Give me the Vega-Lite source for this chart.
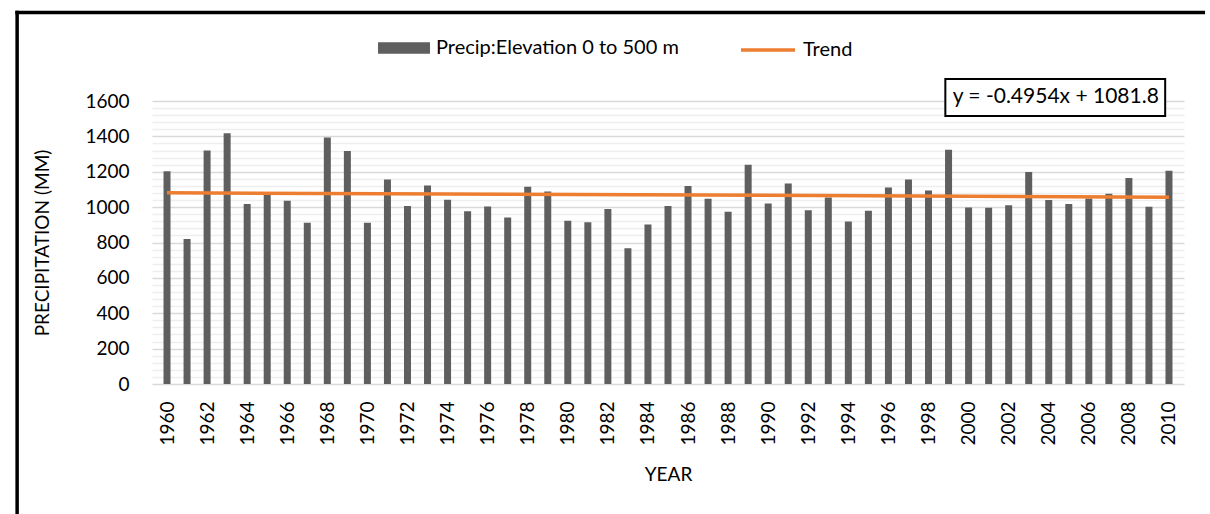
{
  "$schema": "https://vega.github.io/schema/vega-lite/v6.json",
  "autosize": {"type": "none"},
  "width": 1032,
  "height": 283,
  "padding": {"left": 152, "top": 101, "right": 26, "bottom": 130},
  "background": "white",
  "config": {
    "view": {"stroke": null},
    "font": "Lato",
    "axis": {"labelFont": "Lato", "titleFont": "Lato", "labelColor": "#000", "titleColor": "#000", "labelFontSize": 19, "titleFontSize": 19, "titleFontWeight": "normal"},
    "legend": {"labelFont": "Lato", "labelFontSize": 20, "labelColor": "#000", "labelOffset": 6, "padding": 0, "labelLimit": 400}
  },
  "datasets": {
    "precip": [
      {"Year": 1960, "Precip": 1203, "Series": "Precip:Elevation 0 to 500 m"}, {"Year": 1961, "Precip": 820, "Series": "Precip:Elevation 0 to 500 m"}, {"Year": 1962, "Precip": 1320, "Series": "Precip:Elevation 0 to 500 m"},
      {"Year": 1963, "Precip": 1418, "Series": "Precip:Elevation 0 to 500 m"}, {"Year": 1964, "Precip": 1017, "Series": "Precip:Elevation 0 to 500 m"}, {"Year": 1965, "Precip": 1070, "Series": "Precip:Elevation 0 to 500 m"},
      {"Year": 1966, "Precip": 1036, "Series": "Precip:Elevation 0 to 500 m"}, {"Year": 1967, "Precip": 912, "Series": "Precip:Elevation 0 to 500 m"}, {"Year": 1968, "Precip": 1393, "Series": "Precip:Elevation 0 to 500 m"},
      {"Year": 1969, "Precip": 1318, "Series": "Precip:Elevation 0 to 500 m"}, {"Year": 1970, "Precip": 912, "Series": "Precip:Elevation 0 to 500 m"}, {"Year": 1971, "Precip": 1156, "Series": "Precip:Elevation 0 to 500 m"},
      {"Year": 1972, "Precip": 1006, "Series": "Precip:Elevation 0 to 500 m"}, {"Year": 1973, "Precip": 1122, "Series": "Precip:Elevation 0 to 500 m"}, {"Year": 1974, "Precip": 1042, "Series": "Precip:Elevation 0 to 500 m"},
      {"Year": 1975, "Precip": 976, "Series": "Precip:Elevation 0 to 500 m"}, {"Year": 1976, "Precip": 1004, "Series": "Precip:Elevation 0 to 500 m"}, {"Year": 1977, "Precip": 942, "Series": "Precip:Elevation 0 to 500 m"},
      {"Year": 1978, "Precip": 1115, "Series": "Precip:Elevation 0 to 500 m"}, {"Year": 1979, "Precip": 1089, "Series": "Precip:Elevation 0 to 500 m"}, {"Year": 1980, "Precip": 923, "Series": "Precip:Elevation 0 to 500 m"},
      {"Year": 1981, "Precip": 914, "Series": "Precip:Elevation 0 to 500 m"}, {"Year": 1982, "Precip": 989, "Series": "Precip:Elevation 0 to 500 m"}, {"Year": 1983, "Precip": 767, "Series": "Precip:Elevation 0 to 500 m"},
      {"Year": 1984, "Precip": 902, "Series": "Precip:Elevation 0 to 500 m"}, {"Year": 1985, "Precip": 1006, "Series": "Precip:Elevation 0 to 500 m"}, {"Year": 1986, "Precip": 1120, "Series": "Precip:Elevation 0 to 500 m"},
      {"Year": 1987, "Precip": 1047, "Series": "Precip:Elevation 0 to 500 m"}, {"Year": 1988, "Precip": 974, "Series": "Precip:Elevation 0 to 500 m"}, {"Year": 1989, "Precip": 1239, "Series": "Precip:Elevation 0 to 500 m"},
      {"Year": 1990, "Precip": 1021, "Series": "Precip:Elevation 0 to 500 m"}, {"Year": 1991, "Precip": 1134, "Series": "Precip:Elevation 0 to 500 m"}, {"Year": 1992, "Precip": 983, "Series": "Precip:Elevation 0 to 500 m"},
      {"Year": 1993, "Precip": 1055, "Series": "Precip:Elevation 0 to 500 m"}, {"Year": 1994, "Precip": 919, "Series": "Precip:Elevation 0 to 500 m"}, {"Year": 1995, "Precip": 979, "Series": "Precip:Elevation 0 to 500 m"},
      {"Year": 1996, "Precip": 1111, "Series": "Precip:Elevation 0 to 500 m"}, {"Year": 1997, "Precip": 1156, "Series": "Precip:Elevation 0 to 500 m"}, {"Year": 1998, "Precip": 1094, "Series": "Precip:Elevation 0 to 500 m"},
      {"Year": 1999, "Precip": 1324, "Series": "Precip:Elevation 0 to 500 m"}, {"Year": 2000, "Precip": 998, "Series": "Precip:Elevation 0 to 500 m"}, {"Year": 2001, "Precip": 996, "Series": "Precip:Elevation 0 to 500 m"},
      {"Year": 2002, "Precip": 1010, "Series": "Precip:Elevation 0 to 500 m"}, {"Year": 2003, "Precip": 1198, "Series": "Precip:Elevation 0 to 500 m"}, {"Year": 2004, "Precip": 1040, "Series": "Precip:Elevation 0 to 500 m"},
      {"Year": 2005, "Precip": 1017, "Series": "Precip:Elevation 0 to 500 m"}, {"Year": 2006, "Precip": 1049, "Series": "Precip:Elevation 0 to 500 m"}, {"Year": 2007, "Precip": 1075, "Series": "Precip:Elevation 0 to 500 m"},
      {"Year": 2008, "Precip": 1164, "Series": "Precip:Elevation 0 to 500 m"}, {"Year": 2009, "Precip": 1002, "Series": "Precip:Elevation 0 to 500 m"}, {"Year": 2010, "Precip": 1205, "Series": "Precip:Elevation 0 to 500 m"}
    ],
    "trend": [
      {"Year": 1960, "Trend": 1081.3, "Series": "Trend"},
      {"Year": 2010, "Trend": 1056.5, "Series": "Trend"}
    ]
  },
  "resolve": {"axis": {"y": "independent"}},
  "layer": [
    {
      "data": {"name": "precip"},
      "mark": {"type": "bar", "size": 7},
      "encoding": {
        "x": {
          "field": "Year", "type": "quantitative",
          "scale": {"domain": [1959.5, 2010.5], "nice": false, "zero": false},
          "axis": {
            "values": [1960,1962,1964,1966,1968,1970,1972,1974,1976,1978,1980,1982,1984,1986,1988,1990,1992,1994,1996,1998,2000,2002,2004,2006,2008,2010],
            "format": "d", "labelAngle": -90, "labelFlush": false, "labelOverlap": false,
            "grid": false, "domain": false, "ticks": false, "labelPadding": 17,
            "title": "YEAR", "titlePadding": 20
          }
        },
        "y": {
          "field": "Precip", "type": "quantitative",
          "scale": {"domain": [0, 1600], "nice": false},
          "axis": {
            "values": [0,200,400,600,800,1000,1200,1400,1600],
            "format": "d", "grid": true, "gridColor": "#d9d9d9", "gridWidth": 1.5,
            "labelOverlap": false, "labelFlush": false,
            "domain": false, "ticks": false, "labelPadding": 23,
            "title": "PRECIPITATION (MM)", "titlePadding": 32
          }
        },
        "fill": {
          "field": "Series", "type": "nominal",
          "scale": {"domain": ["Precip:Elevation 0 to 500 m"], "range": ["#5f5f5f"]},
          "legend": {
            "orient": "none", "legendX": 226, "legendY": -79, "title": null,
            "symbolSize": 2704, "symbolType": "M-1,-0.225H1V0.225H-1Z", "symbolStrokeWidth": 0
          }
        }
      }
    },
    {
      "data": {"name": "trend"},
      "mark": {"type": "line", "strokeWidth": 3.5},
      "encoding": {
        "x": {"field": "Year", "type": "quantitative"},
        "y": {
          "field": "Trend", "type": "quantitative",
          "axis": {
            "values": [40,80,120,160,240,280,320,360,440,480,520,560,640,680,720,760,840,880,920,960,1040,1080,1120,1160,1240,1280,1320,1360,1440,1480,1520,1560],
            "grid": true, "gridColor": "#eeeeee", "gridWidth": 1.5,
            "labels": false, "domain": false, "ticks": false, "title": null
          }
        },
        "stroke": {
          "field": "Series", "type": "nominal",
          "scale": {"domain": ["Trend"], "range": ["#ED7D31"]},
          "legend": {
            "orient": "none", "legendX": 587, "legendY": -80, "title": null,
            "symbolSize": 2916, "symbolType": "stroke", "symbolStrokeWidth": 3.5
          }
        }
      }
    },
    {
      "data": {"values": [{}]},
      "mark": {"type": "rule", "color": "#000", "strokeWidth": 3.5, "clip": false},
      "encoding": {
        "x": {"datum": 1952.43, "type": "quantitative"},
        "x2": {"datum": 2011.8},
        "y": {"datum": 2100, "type": "quantitative", "axis": null}
      }
    },
    {
      "data": {"values": [{}]},
      "mark": {"type": "rule", "color": "#000", "strokeWidth": 3.5, "clip": false},
      "encoding": {
        "x": {"datum": 1952.52, "type": "quantitative"},
        "y": {"datum": 2110, "type": "quantitative", "axis": null},
        "y2": {"datum": -800}
      }
    },
    {
      "data": {"values": [{}]},
      "mark": {"type": "rect", "fill": "white", "stroke": "#000", "strokeWidth": 2, "clip": false},
      "encoding": {
        "x": {"datum": 1998.84, "type": "quantitative"},
        "x2": {"datum": 2009.81},
        "y": {"datum": 1724, "type": "quantitative", "axis": null},
        "y2": {"datum": 1515}
      }
    },
    {
      "data": {"values": [{}]},
      "mark": {"type": "text", "font": "Lato", "fontSize": 21, "color": "#000", "align": "center", "baseline": "middle", "clip": false},
      "encoding": {
        "x": {"datum": 2004.35, "type": "quantitative"},
        "y": {"datum": 1620, "type": "quantitative", "axis": null},
        "text": {"value": "y = -0.4954x + 1081.8"}
      }
    }
  ]
}
